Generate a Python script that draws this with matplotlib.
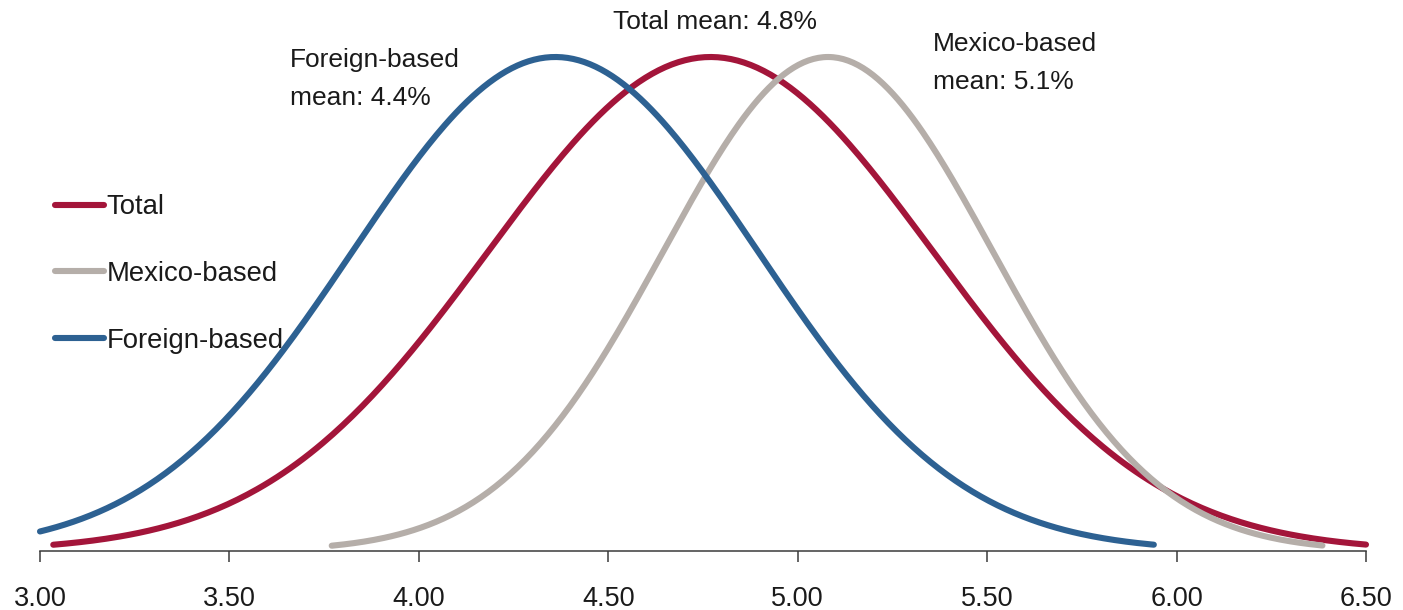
import numpy as np
import matplotlib
matplotlib.use("Agg")
import matplotlib.pyplot as plt

plt.rcParams["font.family"] = ["Liberation Sans", "DejaVu Sans"]

# Distribution parameters for each group (interest-rate expectations, %)
series_names = ["Total", "Mexico-based", "Foreign-based"]
series_means = [4.77, 5.08, 4.36]
series_sds = [0.587, 0.435, 0.535]
series_x_start = [3.035, 3.77, 3.0]
series_x_end = [6.5, 6.385, 5.94]
series_colors = ["#A3153A", "#B5AEA9", "#2D6192"]

x_ticks = [3.00, 3.50, 4.00, 4.50, 5.00, 5.50, 6.00, 6.50]
x_tick_labels = ["3.00", "3.50", "4.00", "4.50", "5.00", "5.50", "6.00", "6.50"]

W, H = 1403, 610
fig = plt.figure(figsize=(W / 100, H / 100), dpi=100)
ax = fig.add_axes([40 / W, (H - 551) / H, 1326 / W, 494 / H])

for name, mu, sd, x0, x1, color in zip(series_names, series_means, series_sds,
                                       series_x_start, series_x_end, series_colors):
    xs = np.linspace(x0, x1, 400)
    ys = np.exp(-0.5 * ((xs - mu) / sd) ** 2)
    ax.plot(xs, ys, color=color, lw=4.4, solid_capstyle="round",
            clip_on=False, label=name)

ax.set_xlim(3.0, 6.5)
ax.set_ylim(0, 1)
ax.set_xticks(x_ticks)
ax.set_xticklabels(x_tick_labels)
ax.set_yticks([])
for side in ["left", "right", "top"]:
    ax.spines[side].set_visible(False)
ax.spines["bottom"].set_color("#3a3a3a")
ax.spines["bottom"].set_linewidth(1.1)
ax.tick_params(axis="x", direction="out", length=8, width=1.1, color="#3a3a3a",
               pad=17, labelsize=19.5, labelcolor="#1a1a1a")

leg = ax.legend(loc="upper left", bbox_to_anchor=(0.0113, 0.722), frameon=False,
                fontsize=19.8, handlelength=1.78, handletextpad=0.1,
                labelspacing=1.48, borderaxespad=0, borderpad=0)
for line in leg.get_lines():
    line.set_linewidth(4.4)
    line.set_solid_capstyle("round")
for t in leg.get_texts():
    t.set_color("#1a1a1a")

txt_kw = dict(fontsize=19, color="#1a1a1a", linespacing=1.72,
              transform=fig.transFigure, va="top", ha="left")
fig.text(613 / W, 1 - 10 / H, "Total mean: 4.8%", **txt_kw)
fig.text(290 / W, 1 - 48 / H, "Foreign-based\nmean: 4.4%", **txt_kw)
fig.text(933 / W, 1 - 32 / H, "Mexico-based\nmean: 5.1%", **txt_kw)

fig.savefig("out.png", dpi=100, facecolor="white")
